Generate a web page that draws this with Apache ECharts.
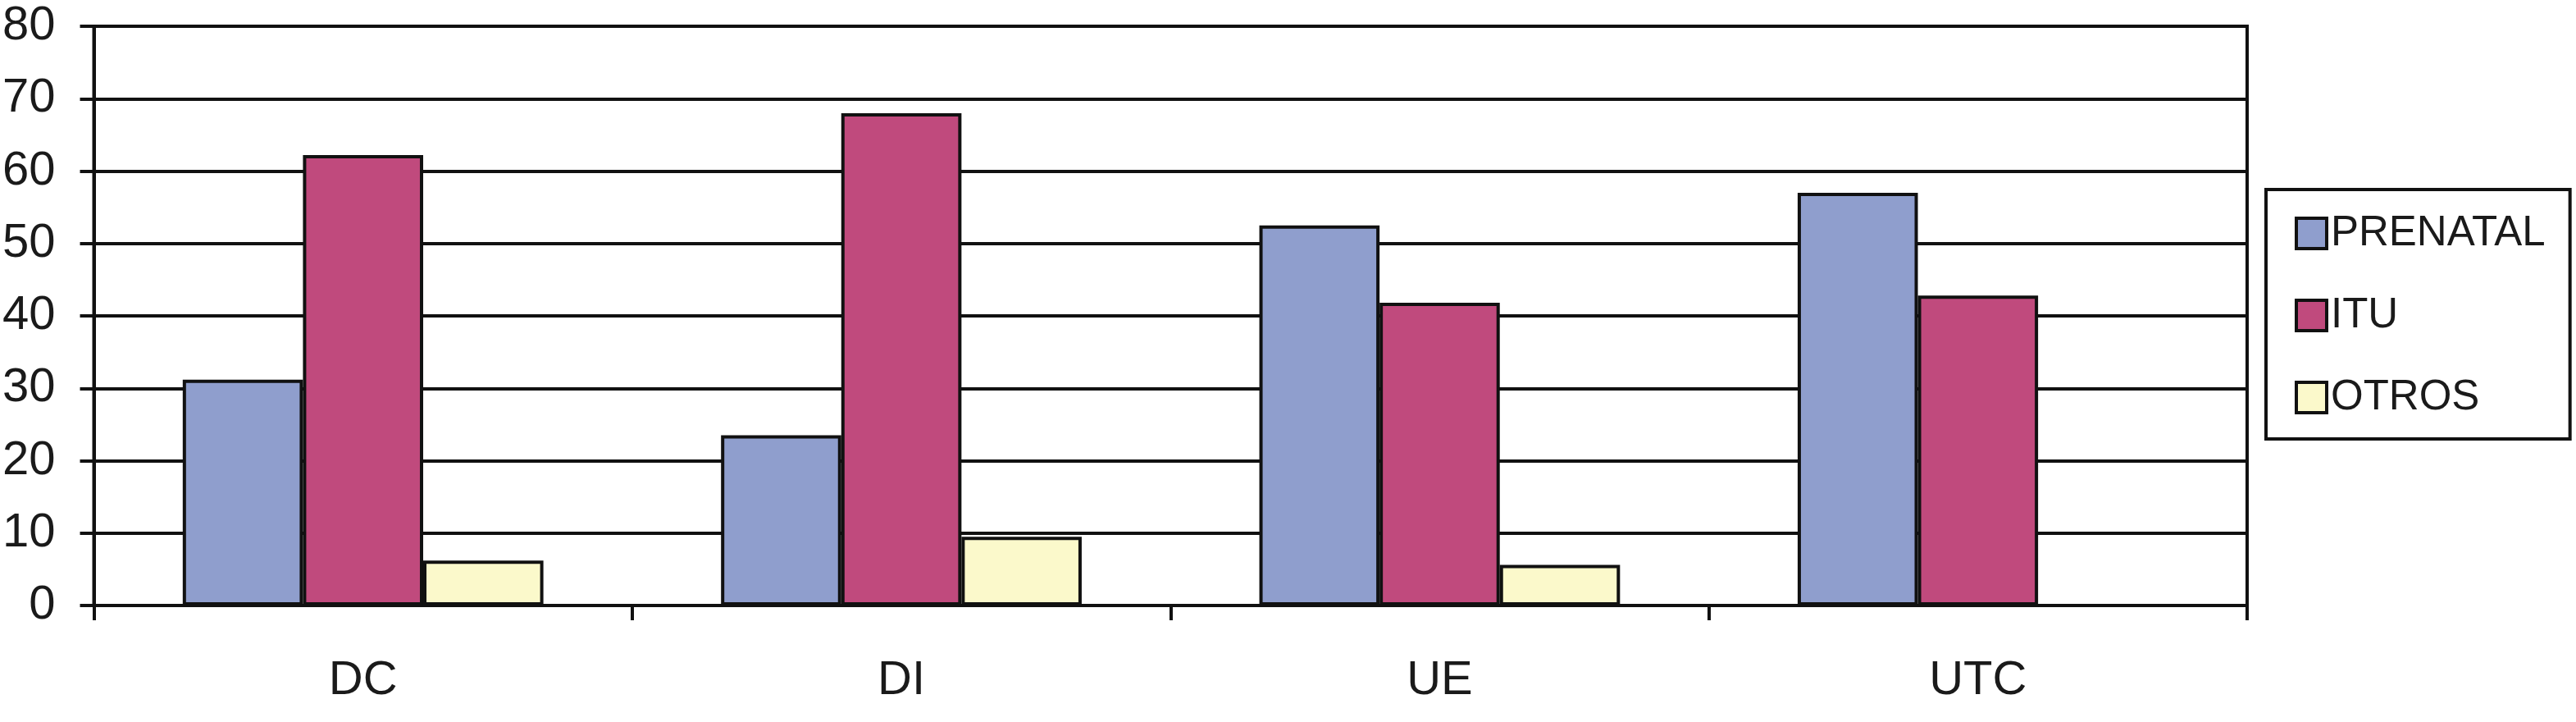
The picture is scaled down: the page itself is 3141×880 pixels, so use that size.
<!DOCTYPE html>
<html>
<head>
<meta charset="utf-8">
<script src="https://cdn.jsdelivr.net/npm/echarts@6/dist/echarts.min.js"></script>
<style>
  html, body { margin: 0; padding: 0; background: #fff; }
  #chart { width: 3141px; height: 880px; }
</style>
</head>
<body>
<div id="chart"></div>
<script>
const categories = ["DC", "DI", "UE", "UTC"];
const prenatal = [31.2, 23.5, 52.5, 57.0];
const itu = [62.2, 68.0, 41.8, 42.8];
const otros = [6.2, 9.5, 5.6, 0];
const yTicks = { min: 0, max: 80, interval: 10 };

const ink = "#111111";
const font = "'Liberation Sans', Arial, sans-serif";

function barSeries(name, data, color) {
  return {
    name: name,
    type: "bar",
    data: data,
    barGap: "0%",
    barCategoryGap: "33%",
    itemStyle: { color: color, borderColor: ink, borderWidth: 4 }
  };
}

const chart = echarts.init(document.getElementById("chart"));
chart.setOption({
  animation: false,
  backgroundColor: "#ffffff",
  grid: {
    left: 110,
    right: 401,
    top: 32,
    bottom: 142,
    show: true,
    borderColor: ink,
    borderWidth: 4,
    containLabel: false
  },
  legend: {
    orient: "vertical",
    left: 2763,
    top: 231,
    padding: [28, 30, 25, 35],
    icon: "rect",
    itemWidth: 37,
    itemHeight: 37,
    itemGap: 49,
    itemStyle: { borderColor: ink, borderWidth: 4 },
    borderColor: ink,
    borderWidth: 4,
    textStyle: { fontFamily: font, fontSize: 51, lineHeight: 50, color: "#1a1a1a" },
    data: ["PRENATAL", "ITU", "OTROS"]
  },
  xAxis: {
    type: "category",
    data: categories,
    axisLine: { lineStyle: { color: ink, width: 4 } },
    axisTick: { show: true, length: 18, lineStyle: { color: ink, width: 4 } },
    axisLabel: {
      margin: 63,
      fontFamily: font,
      fontSize: 58,
      lineHeight: 58,
      color: "#1a1a1a"
    },
    splitLine: { show: false }
  },
  yAxis: {
    type: "value",
    min: yTicks.min,
    max: yTicks.max,
    interval: yTicks.interval,
    axisLine: { show: true, lineStyle: { color: ink, width: 4 } },
    axisTick: { show: true, length: 17, lineStyle: { color: ink, width: 4 } },
    axisLabel: {
      margin: 47,
      fontFamily: font,
      fontSize: 58,
      color: "#1a1a1a"
    },
    splitLine: { show: true, lineStyle: { color: ink, width: 4 } }
  },
  series: [
    barSeries("PRENATAL", prenatal, "#8f9ecd"),
    barSeries("ITU", itu, "#c04a7d"),
    barSeries("OTROS", otros, "#fbf9cb")
  ]
});
</script>
</body>
</html>
